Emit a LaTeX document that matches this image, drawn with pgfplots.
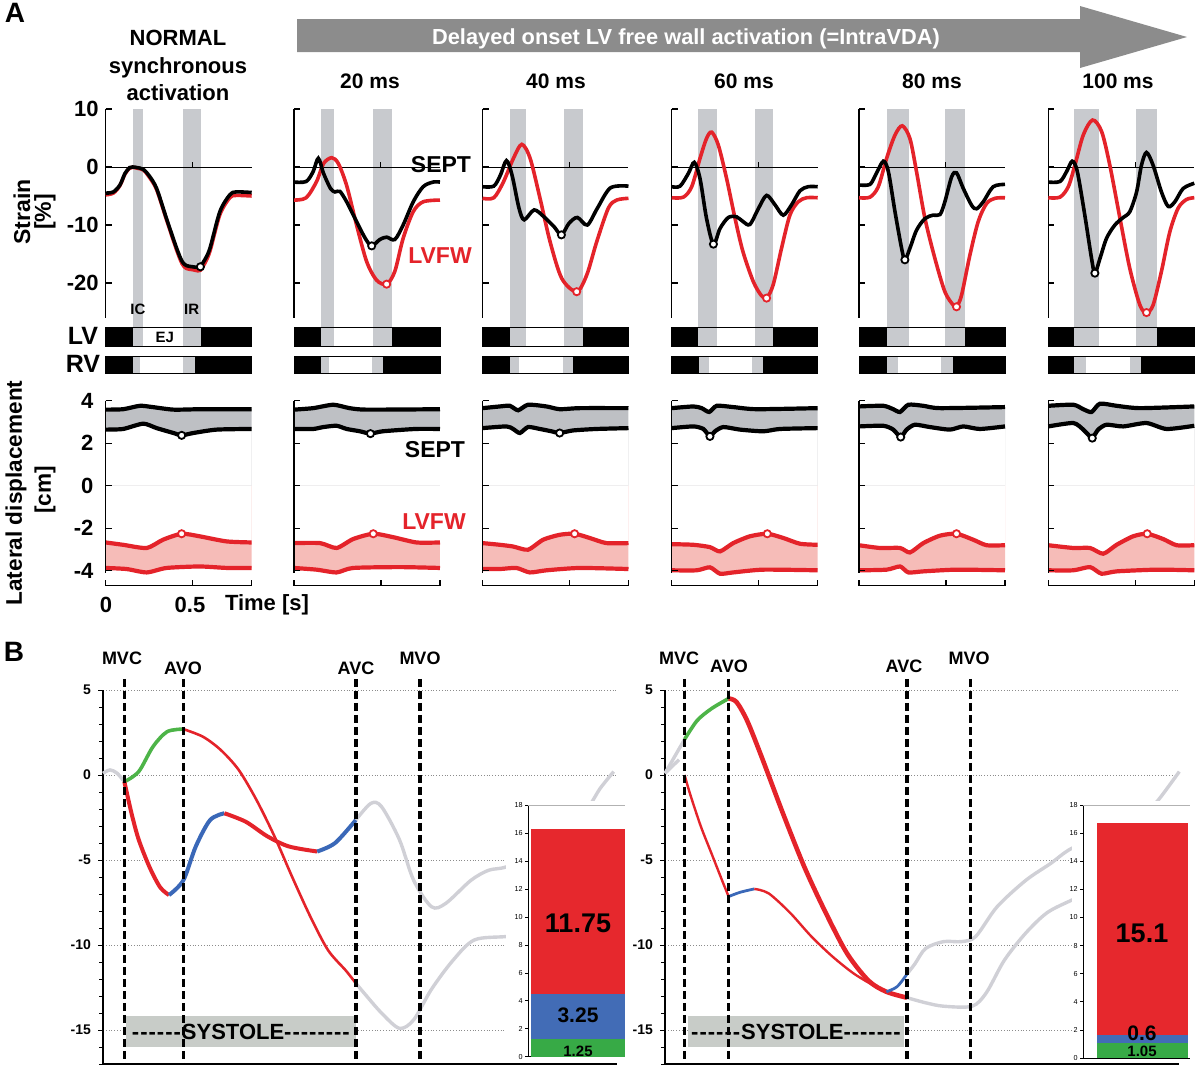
\documentclass[border=0pt]{standalone}
\usepackage{pgfplots}
\pgfplotsset{compat=1.18}
\usepackage{pgfplotstable}
\usepackage{fontspec}
\setmainfont{Liberation Sans}
\newcommand{\fs}[1]{\fontsize{#1}{#1}\selectfont}
\definecolor{cred}{RGB}{228,35,42}
\definecolor{bandgray}{RGB}{200,202,206}
\definecolor{septfill}{RGB}{190,192,196}
\definecolor{lvfill}{RGB}{246,188,184}
\definecolor{arrowgray}{RGB}{140,140,140}
\definecolor{bgreen}{RGB}{77,180,72}
\definecolor{bblue}{RGB}{58,104,184}
\definecolor{bgray}{RGB}{208,208,214}
\definecolor{boxgray}{RGB}{200,204,200}
\definecolor{barred}{RGB}{230,40,45}
\definecolor{barblue}{RGB}{66,108,182}
\definecolor{bargreen}{RGB}{55,170,70}

% ---------- displacement tables (t [s], displacement [cm]) ----------
\pgfplotstableread{
t v
0 3.58
0.1 3.6
0.197 3.76
0.27 3.7
0.39 3.58
0.54 3.6
0.7 3.6
0.84 3.6
}\suA
\pgfplotstableread{
t v
0 2.64
0.1 2.67
0.216 2.92
0.293 2.71
0.39 2.48
0.437 2.37
0.504 2.48
0.638 2.64
0.84 2.67
}\slA
\pgfplotstableread{
t v
0 -2.67
0.1 -2.78
0.236 -2.93
0.33 -2.54
0.437 -2.26
0.54 -2.38
0.695 -2.62
0.84 -2.67
}\luA
\pgfplotstableread{
t v
0 -3.87
0.12 -3.92
0.236 -4.08
0.35 -3.87
0.54 -3.8
0.7 -3.87
0.84 -3.87
}\llA
\pgfplotstableread{
t v
0 3.58
0.11 3.65
0.226 3.81
0.32 3.65
0.42 3.58
0.84 3.6
}\suB
\pgfplotstableread{
t v
0 2.67
0.11 2.67
0.169 2.76
0.245 2.82
0.303 2.67
0.38 2.56
0.44 2.45
0.51 2.56
0.7 2.67
0.84 2.67
}\slB
\pgfplotstableread{
t v
0 -2.7
0.15 -2.7
0.245 -2.93
0.34 -2.51
0.456 -2.26
0.57 -2.42
0.705 -2.67
0.84 -2.67
}\luB
\pgfplotstableread{
t v
0 -3.87
0.13 -3.95
0.245 -4.08
0.34 -3.87
0.61 -3.83
0.84 -3.87
}\llB
\pgfplotstableread{
t v
0 3.65
0.1 3.73
0.157 3.76
0.205 3.55
0.262 3.81
0.368 3.73
0.444 3.6
0.56 3.65
0.84 3.65
}\suC
\pgfplotstableread{
t v
0 2.71
0.138 2.79
0.176 2.67
0.215 2.48
0.262 2.76
0.33 2.67
0.397 2.56
0.444 2.48
0.52 2.6
0.655 2.67
0.84 2.71
}\slC
\pgfplotstableread{
t v
0 -2.7
0.1 -2.78
0.176 -2.86
0.262 -3.01
0.349 -2.54
0.444 -2.31
0.53 -2.26
0.617 -2.46
0.713 -2.7
0.84 -2.7
}\luC
\pgfplotstableread{
t v
0 -3.92
0.1 -3.92
0.195 -3.87
0.272 -4.08
0.368 -3.98
0.56 -3.87
0.84 -3.92
}\llC
\pgfplotstableread{
t v
0 3.65
0.125 3.73
0.172 3.65
0.216 3.47
0.259 3.76
0.354 3.7
0.489 3.6
0.84 3.65
}\suD
\pgfplotstableread{
t v
0 2.71
0.125 2.79
0.182 2.67
0.22 2.32
0.249 2.56
0.297 2.76
0.393 2.64
0.527 2.56
0.623 2.67
0.84 2.71
}\slD
\pgfplotstableread{
t v
0 -2.75
0.125 -2.78
0.22 -2.89
0.278 -3.09
0.354 -2.7
0.45 -2.38
0.55 -2.26
0.642 -2.46
0.738 -2.73
0.84 -2.78
}\luD
\pgfplotstableread{
t v
0 -3.98
0.144 -3.98
0.22 -3.84
0.278 -4.14
0.354 -4.08
0.527 -3.95
0.84 -3.98
}\llD
\pgfplotstableread{
t v
0 3.73
0.14 3.76
0.197 3.6
0.236 3.47
0.284 3.81
0.37 3.76
0.466 3.65
0.84 3.7
}\suE
\pgfplotstableread{
t v
0 2.79
0.14 2.82
0.197 2.64
0.24 2.29
0.274 2.64
0.322 2.87
0.408 2.76
0.523 2.64
0.6 2.79
0.695 2.67
0.84 2.79
}\slE
\pgfplotstableread{
t v
0 -2.8
0.12 -2.93
0.236 -2.93
0.293 -3.14
0.37 -2.7
0.466 -2.35
0.561 -2.26
0.657 -2.54
0.734 -2.8
0.84 -2.8
}\luE
\pgfplotstableread{
t v
0 -3.98
0.159 -3.95
0.236 -3.8
0.284 -4.08
0.37 -4.03
0.561 -3.95
0.84 -3.98
}\llE
\pgfplotstableread{
t v
0 3.76
0.144 3.81
0.201 3.6
0.249 3.47
0.297 3.86
0.393 3.76
0.527 3.65
0.84 3.73
}\suF
\pgfplotstableread{
t v
0 2.79
0.144 2.95
0.201 2.64
0.23 2.4
0.253 2.24
0.287 2.64
0.335 2.87
0.431 2.79
0.565 2.95
0.68 2.67
0.84 2.82
}\slF
\pgfplotstableread{
t v
0 -2.8
0.144 -2.93
0.24 -2.93
0.316 -3.2
0.393 -2.78
0.488 -2.38
0.569 -2.26
0.661 -2.51
0.738 -2.8
0.84 -2.8
}\luF
\pgfplotstableread{
t v
0 -3.98
0.144 -3.98
0.24 -3.83
0.306 -4.14
0.393 -4.03
0.623 -3.95
0.84 -3.98
}\llF

\pgfplotsset{
 strainax/.style={scale only axis, anchor=north west, width=73pt, height=104.4pt,
   xmin=0, xmax=0.84, ymin=-26, ymax=10, clip=false,
   axis x line=none, axis y line=left, axis line style={-, line width=0.6pt},
   ytick={-20,-10,0,10}, yticklabels={}, tick align=inside, major tick length=3pt,
   tick style={line width=0.6pt, black},
   yticklabel style={font=\bfseries\fs{11}}},
 dispax/.style={scale only axis, anchor=north west, width=73pt, height=92.45pt,
   xmin=0, xmax=0.84, ymin=-4.7, ymax=4, clip=false, hide axis},
 sline/.style={line width=1.8pt, smooth, tension=0.5, mark=none},
 dline/.style={line width=2.1pt, smooth, tension=0.4, mark=none},
 dfill/.style={fill=#1, draw=none, smooth, tension=0.4, mark=none},
 wcirc/.style={only marks, mark=*, mark size=1.8pt, mark options={fill=white, draw=#1, line width=0.9pt}},
 bline/.style={smooth, tension=0.5, mark=none, line width=#1},
 bax/.style={scale only axis, anchor=north west, width=257pt, height=187pt,
   xmin=0, xmax=514, ymin=-17, ymax=5, axis lines*=left,
   axis line style={-, line width=0.9pt}, x axis line style={line width=1.4pt},
   xtick=\empty, ytick={-15,-10,-5,0,5}, minor ytick={-17,-16,...,5},
   tick align=outside, major tick length=2.5pt, minor tick length=2pt,
   tick style={black, line width=0.5pt},
   ymajorgrids, grid style={densely dotted, black!45, line width=0.5pt},
   yticklabel style={font=\bfseries\fs{7}}, clip=false,
   /pgf/number format/assume math mode=true},
 insetax/.style={scale only axis, anchor=north west,
   xmin=0, xmax=1, ymin=0, ymax=18, axis x line*=bottom, axis y line*=left,
   axis line style={-, line width=0.4pt}, xtick=\empty, ytick={0,2,...,18},
   tick align=outside, major tick length=1.5pt, tick style={black, line width=0.3pt},
   yticklabel style={font=\fs{3.6}, inner sep=1pt}, ybar stacked, clip=false,
   /pgf/number format/assume math mode=true},
}
\newcommand{\valveline}[1]{\draw[line width=1.8pt, dash pattern=on 4pt off 2pt] (axis cs:#1,5.65) -- (axis cs:#1,-17);}

% strain frame: IC band, IR band, RV bar segments
\newcommand{\sframe}[8]{%
 \fill[bandgray] (axis cs:#1,10) rectangle (axis cs:#2,-31);
 \fill[bandgray] (axis cs:#3,10) rectangle (axis cs:#4,-31);
 \fill[black] (axis cs:0,-27.7) rectangle (axis cs:#1,-31);
 \fill[black] (axis cs:#4,-27.7) rectangle (axis cs:0.84,-31);
 \draw[line width=0.4pt] (axis cs:0,-27.7) rectangle (axis cs:0.84,-31);
 \fill[black] (axis cs:0,-32.7) rectangle (axis cs:#5,-35.6);
 \fill[bandgray] (axis cs:#5,-32.7) rectangle (axis cs:#6,-35.6);
 \fill[bandgray] (axis cs:#7,-32.7) rectangle (axis cs:#8,-35.6);
 \fill[black] (axis cs:#8,-32.7) rectangle (axis cs:0.84,-35.6);
 \draw[line width=0.4pt] (axis cs:0,-32.7) rectangle (axis cs:0.84,-35.6);
 \draw[line width=0.5pt] (axis cs:0,0) -- (axis cs:0.84,0);
 \draw[line width=0.5pt] (axis cs:0.5,0) -- ++(0pt,2.5pt);
}
\newcommand{\dframe}{%
 \draw[line width=0.6pt] (axis cs:0,4) -- (axis cs:0,-4.12);
 \draw[line width=0.6pt] (axis cs:0,4) -- ++(3pt,0pt);
 \draw[line width=0.6pt] (axis cs:0,2) -- ++(3pt,0pt);
 \draw[line width=0.6pt] (axis cs:0,0) -- ++(3pt,0pt);
 \draw[line width=0.6pt] (axis cs:0,-2) -- ++(3pt,0pt);
 \draw[line width=0.6pt] (axis cs:0,-4) -- ++(3pt,0pt);
 \draw[line width=0.6pt] (axis cs:0,-4.7) -- (axis cs:0.84,-4.7);
 \draw[line width=0.6pt] (axis cs:0,-4.7) -- ++(0pt,3pt);
 \draw[line width=0.6pt] (axis cs:0.5,-4.7) -- ++(0pt,3pt);
 \draw[line width=0.6pt] (axis cs:0.84,-4.7) -- ++(0pt,3pt);
}
% displacement plot: #1..#4 tables (SEPT up, SEPT low, LVFW up, LVFW low)
\newcommand{\dcurves}[4]{%
 \addplot[dfill=lvfill] table {#4} \closedcycle;
 \addplot[dfill=white] table {#3} \closedcycle;
 \addplot[dfill=septfill] table {#1} \closedcycle;
 \addplot[dfill=white] table {#2} \closedcycle;
 \addplot[dline, black] table {#1};
 \addplot[dline, black] table {#2};
 \addplot[dline, cred] table {#3};
 \addplot[dline, cred] table {#4};
}
\newcommand{\hy}{-\kern0.5pt}

\begin{document}
\begin{tikzpicture}[x=0.5pt, y=-0.5pt, font=\bfseries\fs{11}]
\path[use as bounding box] (0,0) rectangle (1200,1072);

% ================= PANEL A header =================
\node[font=\bfseries\fs{14}] at (15,13) {A};
\node[anchor=base] at (178,45) {NORMAL};
\node[anchor=base] at (178,73) {synchronous};
\node[anchor=base] at (178,100) {activation};
\fill[arrowgray] (297,19) -- (1080,19) -- (1080,6) -- (1187,37) -- (1080,68) -- (1080,52) -- (297,52) -- cycle;
\node[anchor=base, white, font=\bfseries\fs{10.9}] at (686,44) {Delayed onset LV free wall activation (=IntraVDA)};
\node[anchor=base, font=\bfseries\fs{10.5}] at (370,88) {20 ms};
\node[anchor=base, font=\bfseries\fs{10.5}] at (556,88) {40 ms};
\node[anchor=base, font=\bfseries\fs{10.5}] at (744,88) {60 ms};
\node[anchor=base, font=\bfseries\fs{10.5}] at (932,88) {80 ms};
\node[anchor=base, font=\bfseries\fs{10.5}] at (1118,88) {100 ms};

\node[rotate=90, font=\bfseries\fs{11.5}] at (22,212) {Strain};
\node[rotate=90, font=\bfseries\fs{11.5}] at (45,212) {[\%]};
\node[font=\bfseries\fs{12.5}] at (83,336) {LV};
\node[font=\bfseries\fs{12.5}] at (83,364) {RV};
\node[rotate=90, font=\bfseries\fs{11.3}] at (16,493) {Lateral displacement};
\node[rotate=90, font=\bfseries\fs{11.3}] at (45,490) {[cm]};

% ================= strain subplots =================
\begin{axis}[strainax, at={(52.85pt,-54.5pt)}, yticklabels={-20,-10,0,10}]
\sframe{0.155}{0.216}{0.443}{0.548}{0.155}{0.197}{0.443}{0.513}
\addplot[sline, cred] coordinates {(0,-4.8)(0.044,-4.5)(0.082,-3.2)(0.111,-1.2)(0.138,-0.2)(0.155,-0.05)(0.18,-0.2)(0.216,-0.5)(0.25,-1.7)(0.293,-3.9)(0.35,-9.1)(0.408,-14.3)(0.44,-16.7)(0.465,-17.5)(0.5,-17.7)(0.53,-17.9)(0.545,-17.8)(0.57,-16.6)(0.6,-14.5)(0.657,-8.2)(0.714,-5.3)(0.75,-4.9)(0.84,-5)};
\addplot[sline, black] coordinates {(0,-4.5)(0.044,-4.3)(0.082,-3.1)(0.111,-1.1)(0.138,-0.1)(0.155,0)(0.18,-0.1)(0.216,-0.4)(0.25,-1.5)(0.293,-3.7)(0.35,-8.9)(0.408,-14)(0.44,-16.3)(0.465,-17)(0.5,-17.2)(0.53,-17.3)(0.545,-17.1)(0.57,-16)(0.6,-14)(0.657,-7.7)(0.714,-4.8)(0.75,-4.3)(0.84,-4.4)};
\addplot[wcirc=black] coordinates {(0.545,-17.2)};
\node[font=\bfseries\fs{7.5}] at (axis cs:0.185,-24.6) {IC};
\node[font=\bfseries\fs{7.5}] at (axis cs:0.495,-24.6) {IR};
\node[font=\bfseries\fs{7.5}] at (axis cs:0.34,-29.35) {EJ};
\end{axis}

\begin{axis}[strainax, at={(147pt,-54.5pt)}]
\sframe{0.155}{0.23}{0.456}{0.561}{0.153}{0.203}{0.446}{0.513}
\addplot[sline, cred] coordinates {(0,-5.7)(0.07,-5.3)(0.13,-2.5)(0.17,0.6)(0.217,1.6)(0.255,0.6)(0.303,-3.2)(0.36,-10)(0.418,-16.3)(0.475,-19.5)(0.533,-20.2)(0.58,-18)(0.628,-12.3)(0.686,-7.7)(0.743,-6)(0.84,-5.7)};
\addplot[sline, black] coordinates {(0,-2.6)(0.07,-2.5)(0.11,-0.8)(0.14,1.5)(0.17,-1.1)(0.21,-3.7)(0.236,-4.3)(0.264,-4.2)(0.303,-6)(0.36,-9.4)(0.41,-12.3)(0.447,-13.6)(0.494,-12.5)(0.533,-12.1)(0.58,-12.5)(0.628,-10)(0.686,-6)(0.743,-3.4)(0.8,-2.6)(0.84,-2.6)};
\addplot[wcirc=black] coordinates {(0.447,-13.6)};
\addplot[wcirc=cred] coordinates {(0.533,-20.2)};
\end{axis}
\node[font=\bfseries\fs{11.5}] at (441,165) {SEPT};
\node[font=\bfseries\fs{11.5}, text=cred] at (440,256) {LVFW};

\begin{axis}[strainax, at={(241.25pt,-54.5pt)}]
\sframe{0.161}{0.253}{0.471}{0.579}{0.157}{0.211}{0.464}{0.521}
\addplot[sline, cred] coordinates {(0,-5.4)(0.065,-5.3)(0.12,-2.6)(0.178,1.5)(0.226,3.9)(0.274,1.5)(0.331,-5.4)(0.389,-12.9)(0.456,-19.2)(0.542,-21.5)(0.6,-18.6)(0.657,-12.9)(0.724,-7.1)(0.772,-5.7)(0.84,-5.4)};
\addplot[sline, black] coordinates {(0,-3.4)(0.065,-3.3)(0.103,-1.4)(0.138,1.1)(0.17,-1.4)(0.21,-7.1)(0.24,-9.1)(0.297,-7.4)(0.354,-8.6)(0.412,-10.3)(0.454,-11.7)(0.498,-9.7)(0.546,-8.7)(0.603,-10)(0.661,-7.1)(0.736,-3.6)(0.84,-3.3)};
\addplot[wcirc=black] coordinates {(0.454,-11.7)};
\addplot[wcirc=cred] coordinates {(0.542,-21.5)};
\end{axis}

\begin{axis}[strainax, at={(335.85pt,-54.5pt)}]
\sframe{0.149}{0.259}{0.479}{0.584}{0.157}{0.216}{0.46}{0.527}
\addplot[sline, cred] coordinates {(0,-5.3)(0.067,-5.2)(0.115,-3.4)(0.163,1.5)(0.2,4.9)(0.23,6.0)(0.268,3.8)(0.316,-2)(0.364,-8.8)(0.41,-14.6)(0.47,-19.8)(0.517,-22.2)(0.546,-22.6)(0.584,-20.3)(0.632,-14)(0.68,-8.3)(0.728,-6)(0.776,-5.3)(0.84,-5.3)};
\addplot[sline, black] coordinates {(0,-3.4)(0.048,-3.3)(0.096,-1.1)(0.13,0.8)(0.163,-2)(0.2,-8.8)(0.24,-13.3)(0.278,-10.6)(0.326,-8.7)(0.374,-8.6)(0.41,-9.4)(0.45,-9.9)(0.5,-7.1)(0.546,-4.9)(0.594,-6.5)(0.642,-8.3)(0.69,-6.5)(0.738,-4.1)(0.785,-3.4)(0.84,-3.4)};
\addplot[wcirc=black] coordinates {(0.24,-13.3)};
\addplot[wcirc=cred] coordinates {(0.546,-22.6)};
\end{axis}

\begin{axis}[strainax, at={(429.5pt,-54.5pt)}]
\sframe{0.159}{0.287}{0.494}{0.609}{0.159}{0.226}{0.469}{0.538}
\addplot[sline, cred] coordinates {(0,-5.3)(0.063,-5.2)(0.111,-3.4)(0.159,1.5)(0.207,5.5)(0.249,7.1)(0.293,4.9)(0.331,-0.8)(0.379,-8.8)(0.437,-15.8)(0.494,-21.5)(0.542,-23.8)(0.561,-24.1)(0.59,-22.1)(0.638,-15.2)(0.686,-9.4)(0.734,-6.3)(0.782,-5.4)(0.84,-5.3)};
\addplot[sline, black] coordinates {(0,-3.1)(0.063,-3)(0.1,-1.1)(0.14,1.0)(0.169,-0.8)(0.207,-7.7)(0.245,-14)(0.264,-16)(0.293,-14)(0.331,-10.9)(0.379,-8.9)(0.427,-8.3)(0.466,-8.2)(0.494,-6)(0.533,-1.7)(0.561,-1.0)(0.6,-3.7)(0.648,-6.6)(0.676,-7.2)(0.715,-6)(0.772,-3.4)(0.84,-3)};
\addplot[wcirc=black] coordinates {(0.264,-16)};
\addplot[wcirc=cred] coordinates {(0.561,-24.1)};
\end{axis}

\begin{axis}[strainax, at={(524.15pt,-54.5pt)}]
\sframe{0.149}{0.293}{0.504}{0.626}{0.149}{0.216}{0.469}{0.536}
\addplot[sline, cred] coordinates {(0,-5.3)(0.067,-5.2)(0.115,-3.4)(0.153,0.3)(0.201,5.5)(0.255,8.1)(0.307,6.1)(0.354,0.3)(0.412,-8.8)(0.469,-17.5)(0.527,-23.8)(0.565,-25.1)(0.603,-23.8)(0.651,-18)(0.699,-11.2)(0.747,-7.1)(0.795,-5.6)(0.84,-5.3)};
\addplot[sline, black] coordinates {(0,-2.6)(0.067,-2.5)(0.105,-0.8)(0.138,1.0)(0.167,-0.8)(0.21,-8.3)(0.249,-15.8)(0.268,-18.3)(0.297,-15.8)(0.335,-12.3)(0.383,-10)(0.431,-8.7)(0.469,-7.7)(0.508,-4.3)(0.536,0.3)(0.565,2.5)(0.603,0.3)(0.651,-4.3)(0.69,-6.8)(0.728,-6)(0.776,-3.7)(0.84,-2.8)};
\addplot[wcirc=black] coordinates {(0.268,-18.3)};
\addplot[wcirc=cred] coordinates {(0.565,-25.1)};
\end{axis}

% ================= displacement subplots =================
\begin{axis}[dispax, at={(52.85pt,-200.35pt)}]
\dcurves{\suA}{\slA}{\luA}{\llA}
\dframe
\addplot[wcirc=black] coordinates {(0.437,2.37)};
\addplot[wcirc=cred] coordinates {(0.437,-2.26)};
\node[anchor=east] at (axis cs:-0.03,4) {4};
\node[anchor=east] at (axis cs:-0.03,2) {2};
\node[anchor=east] at (axis cs:-0.03,0) {0};
\node[anchor=east] at (axis cs:-0.03,-2) {-2};
\node[anchor=east] at (axis cs:-0.03,-4) {-4};
\end{axis}
\node at (106,605) {0};
\node at (190,605) {0.5};
\node at (267,605) {Time [s]};

\begin{axis}[dispax, at={(147pt,-200.35pt)}]
\dcurves{\suB}{\slB}{\luB}{\llB}
\dframe
\addplot[wcirc=black] coordinates {(0.44,2.45)};
\addplot[wcirc=cred] coordinates {(0.456,-2.26)};
\end{axis}
\node[font=\bfseries\fs{11.5}] at (435,450) {SEPT};
\node[font=\bfseries\fs{11.5}, text=cred] at (434,522) {LVFW};

\begin{axis}[dispax, at={(241.25pt,-200.35pt)}]
\dcurves{\suC}{\slC}{\luC}{\llC}
\dframe
\addplot[wcirc=black] coordinates {(0.444,2.48)};
\addplot[wcirc=cred] coordinates {(0.53,-2.26)};
\end{axis}
\begin{axis}[dispax, at={(335.85pt,-200.35pt)}]
\dcurves{\suD}{\slD}{\luD}{\llD}
\dframe
\addplot[wcirc=black] coordinates {(0.22,2.32)};
\addplot[wcirc=cred] coordinates {(0.55,-2.26)};
\end{axis}
\begin{axis}[dispax, at={(429.5pt,-200.35pt)}]
\dcurves{\suE}{\slE}{\luE}{\llE}
\dframe
\addplot[wcirc=black] coordinates {(0.24,2.29)};
\addplot[wcirc=cred] coordinates {(0.561,-2.26)};
\end{axis}
\begin{axis}[dispax, at={(524.15pt,-200.35pt)}]
\dcurves{\suF}{\slF}{\luF}{\llF}
\dframe
\addplot[wcirc=black] coordinates {(0.253,2.24)};
\addplot[wcirc=cred] coordinates {(0.569,-2.26)};
\end{axis}

% ================= PANEL B =================
\node[font=\bfseries\fs{14}] at (14,652) {B};
\begin{axis}[bax, at={(51.5pt,-345pt)}]
\fill[boxgray] (axis cs:23,-14.2) rectangle (axis cs:252.8,-16);
\node[font=\bfseries\fs{11}] at (axis cs:137.9,-15.1) {\hy\hy\hy\hy\hy\hy SYSTOLE\hy\hy\hy\hy\hy\hy\hy -};
\addplot[bline=1.7pt, bgray] coordinates {(0,0.1)(7.1,0.3)(14.2,0.1)(21.4,-0.4)};
\addplot[bline=1.7pt, bgray] coordinates {(252.8,-12.25)(260.7,-12.8)(278.5,-14)(296.4,-14.9)(310.7,-14.4)(328.5,-12.6)(350,-10.9)(371.4,-9.7)(403.5,-9.5)(430,-9.3)(470,-9.2)};
\addplot[bline=1.8pt, bgreen] coordinates {(21.4,-0.4)(35.7,0.2)(50,1.67)(64.2,2.55)(80.3,2.7)};
\addplot[bline=1.3pt, cred] coordinates {(80.3,2.7)(100,2.25)(117.8,1.47)(135.7,0.3)(153.5,-1.47)(171.4,-3.6)(189.2,-6)(207.1,-8.3)(225,-10.3)(242.8,-11.5)(252.8,-12.25)};
\addplot[bline=1.7pt, bgray] coordinates {(252.8,-2.65)(267.8,-1.67)(278.5,-1.86)(296.4,-3.8)(310.7,-6.2)(328.5,-7.75)(342.8,-7.55)(367.8,-6.2)(385.7,-5.6)(403.5,-5.4)(440,-4.5)(465,-3.2)(485.7,-1.86)(497,-0.8)(510.7,0.2)};
\addplot[bline=2pt, cred] coordinates {(21.4,-0.4)(28.5,-2.25)(35.7,-3.8)(46.4,-5.4)(57.1,-6.6)(66,-7.06)};
\addplot[bline=2pt, bblue] coordinates {(66,-7.06)(80.3,-6.2)(92.8,-4.2)(107.1,-2.65)(121.4,-2.25)};
\addplot[bline=2pt, cred] coordinates {(121.4,-2.25)(142.8,-2.75)(164.2,-3.6)(185.7,-4.2)(214.2,-4.5)};
\addplot[bline=2pt, bblue] coordinates {(214.2,-4.5)(232.1,-4.0)(252.8,-2.65)};
\valveline{21.4}
\valveline{80.3}
\valveline{252.8}
\valveline{317}
\end{axis}
\node[font=\bfseries\fs{9}] at (122,658) {MVC};
\node[font=\bfseries\fs{9}] at (183,668) {AVO};
\node[font=\bfseries\fs{9}] at (356,668) {AVC};
\node[font=\bfseries\fs{9}] at (420,658) {MVO};
\fill[white] (506,801) rectangle (627,1058);
\begin{axis}[insetax, at={(264pt,-402.5pt)}, width=48.5pt, height=125.85pt, bar width=47pt]
\addplot[fill=bargreen, draw=none] coordinates {(0.515,1.25)};
\addplot[fill=barblue, draw=none] coordinates {(0.515,3.25)};
\addplot[fill=barred, draw=none] coordinates {(0.515,11.75)};
\draw[black!30, line width=0.4pt] (axis cs:0,18) -- (axis cs:1,18);
\end{axis}
\node[font=\bfseries\fs{13.5}] at (578,923) {11.75};
\node[font=\bfseries\fs{10.5}] at (578,1015) {3.25};
\node[font=\bfseries\fs{7.5}] at (578,1051) {1.25};

\begin{axis}[bax, at={(332.5pt,-345pt)}]
\fill[boxgray] (axis cs:23.2,-14.2) rectangle (axis cs:239.3,-16);
\node[font=\bfseries\fs{11}] at (axis cs:131,-15.1) {\hy\hy\hy\hy\hy\hy SYSTOLE\hy\hy\hy\hy\hy\hy -};
\addplot[bline=1.7pt, bgray] coordinates {(0,0.1)(19.6,2.1)};
\addplot[bline=1.7pt, bgray] coordinates {(0,0.1)(14,0.9)};
\addplot[bline=1.8pt, bgreen] coordinates {(19.6,2.1)(32.1,3.2)(46.4,3.9)(63.6,4.5)};
\addplot[bline=2.3pt, cred] coordinates {(63.6,4.5)(71.4,4.3)(82.1,3.2)(96.4,1.1)(117.9,-2.25)(139.3,-5.4)(160.7,-8.1)(182.1,-10.5)(203.6,-12.1)(221.4,-12.75)(242.1,-13.1)};
\addplot[bline=1.7pt, bgray] coordinates {(242.1,-13.1)(260.7,-13.4)(278.6,-13.6)(307.1,-13.6)(321.4,-12.8)(339.3,-10.9)(360.7,-9.3)(382.1,-8.1)(407.1,-7.35)(440,-6.5)};
\addplot[bline=1.2pt, cred] coordinates {(19.6,0)(25,-1.1)(35.7,-3.0)(46.4,-4.6)(57.1,-6.2)(63.6,-7.15)};
\addplot[bline=1.4pt, bblue] coordinates {(63.6,-7.15)(75,-6.9)(89.3,-6.7)};
\addplot[bline=1.2pt, cred] coordinates {(89.3,-6.7)(103.6,-6.96)(125,-8.1)(146.4,-9.5)(167.9,-10.7)(189.3,-11.7)(210.7,-12.45)(221.4,-12.75)};
\addplot[bline=1.4pt, bblue] coordinates {(221.4,-12.75)(232.1,-12.45)(242.1,-11.7)};
\addplot[bline=1.7pt, bgray] coordinates {(242.1,-11.7)(250,-11.1)(260.7,-10.2)(278.6,-9.8)(296.4,-9.8)(310.7,-9.5)(332.1,-7.75)(360.7,-6.2)(385.7,-5.2)(407.1,-4.3)(450,-3.2)(480,-2.2)(492.9,-1.5)(514.3,0.2)};
\valveline{19.6}
\valveline{63.6}
\valveline{242.1}
\valveline{305.4}
\end{axis}
\node[font=\bfseries\fs{9}] at (679,658) {MVC};
\node[font=\bfseries\fs{9}] at (729,666) {AVO};
\node[font=\bfseries\fs{9}] at (904,666) {AVC};
\node[font=\bfseries\fs{9}] at (969,658) {MVO};
\fill[white] (1072,801) rectangle (1194,1059);
\begin{axis}[insetax, at={(541.5pt,-402.5pt)}, width=53.5pt, height=126.5pt, bar width=45.5pt]
\addplot[fill=bargreen, draw=none] coordinates {(0.556,1.05)};
\addplot[fill=barblue, draw=none] coordinates {(0.556,0.6)};
\addplot[fill=barred, draw=none] coordinates {(0.556,15.1)};
\draw[black!30, line width=0.4pt] (axis cs:0,18) -- (axis cs:1,18);
\end{axis}
\node[font=\bfseries\fs{13.5}] at (1142,933) {15.1};
\node[font=\bfseries\fs{10.5}, inner sep=0pt] at (1142,1033) {0.6};
\node[font=\bfseries\fs{7.5}, inner sep=0pt] at (1142,1051) {1.05};
\end{tikzpicture}
\end{document}
